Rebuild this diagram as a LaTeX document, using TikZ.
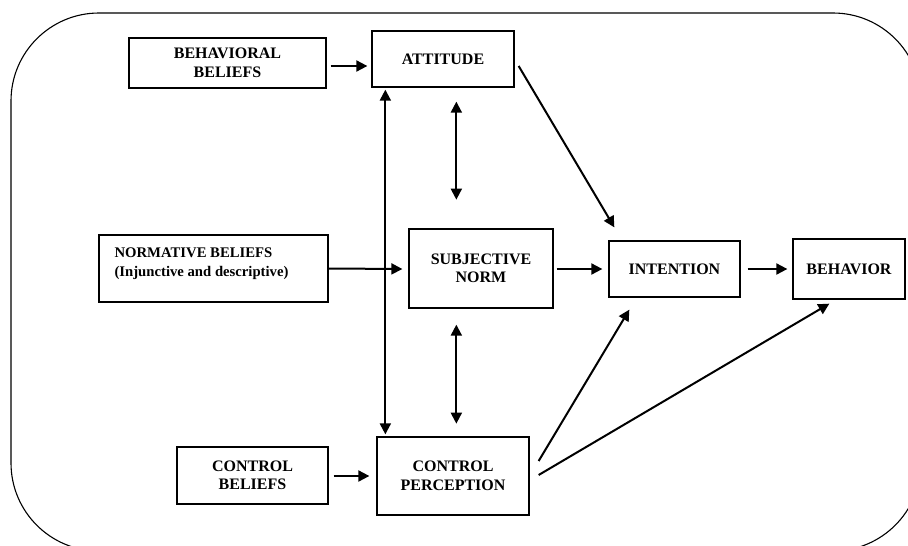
\documentclass[tikz,border=0pt]{standalone}
\usepackage{fontspec}
\setmainfont{Liberation Serif}
\usetikzlibrary{arrows.meta,calc}
\begin{document}
\begin{tikzpicture}[x=1pt,y=-1pt,
  box/.style={draw,line width=1.3pt,inner sep=0pt,align=center,
    font=\fontsize{16}{18.5}\selectfont\bfseries},
  arr/.style={line width=2pt,-{Triangle[length=11pt,width=11pt]}},
  darr/.style={line width=2pt,{Triangle[length=11pt,width=11pt]}-{Triangle[length=11pt,width=11pt]}}]
\useasboundingbox (0,0) rectangle (908,546);
\clip (0,0) rectangle (908,546);
\draw[line width=1.1pt,rounded corners=88pt] (11,13) rectangle (921,551);
% nodes
\node[box,minimum width=197pt,minimum height=50pt] (bb) at (227.5,63) {BEHAVIORAL\\BELIEFS};
\node[box,minimum width=142pt,minimum height=56pt] (att) at (443,59) {ATTITUDE};
\node[box,minimum width=229pt,minimum height=67pt] (nb) at (213.5,268.5) {};
\node[anchor=west,align=left,inner sep=0pt,font=\fontsize{14.7}{19}\selectfont\bfseries] (nbt) at ($(nb.west)+(16,-5)$) {NORMATIVE BELIEFS\\(Injunctive and descriptive)};
\node[box,minimum width=144pt,minimum height=79pt] (sn) at (481,268.5) {SUBJECTIVE\\NORM};
\node[box,minimum width=131pt,minimum height=56pt] (int) at (674.5,269) {INTENTION};
\node[box,minimum width=112pt,minimum height=60pt] (beh) at (849,269) {BEHAVIOR};
\node[box,minimum width=151pt,minimum height=57pt] (cb) at (252.5,475.5) {CONTROL\\BELIEFS};
\node[box,minimum width=152pt,minimum height=78pt] (cp) at (453,476) {CONTROL\\PERCEPTION};
% connector end points
\coordinate (bbA) at ($(bb.east)+(4,3)$);
\coordinate (bbB) at ($(att.west)+(-4,7)$);
\coordinate (vA) at ($(att.south west)+(14,2)$);
\coordinate (vB) at ($(cp.north west)+(9,-2)$);
\coordinate (d1A) at ($(att.south west)+(85,14)$);
\coordinate (d1B) at ($(att.south west)+(85,112)$);
\coordinate (d2A) at ($(sn.south west)+(48,16)$);
\coordinate (d2B) at ($(sn.south west)+(48,115)$);
\coordinate (aiA) at ($(att.east)+(4,7)$);
\coordinate (aiB) at ($(int.north west)+(6,-13)$);
\coordinate (ciA) at ($(cp.east)+(9,-15)$);
\coordinate (ciB) at ($(int.south west)+(21,12)$);
\coordinate (cbA) at ($(cp.east)+(9,-1)$);
\coordinate (cbB) at ($(beh.south west)+(37,4)$);
% connectors
\draw[arr] (bbA) -- (bbB);
\draw[arr] (nb.east) -- ($(sn.west)+(-6,0.5)$);
\draw[arr] ($(sn.east)+(3,0.5)$) -- ($(int.west)+(-6,0)$);
\draw[arr] ($(int.east)+(7,0)$) -- ($(beh.west)+(-5,0)$);
\draw[arr] ($(cb.east)+(5,0.5)$) -- ($(cp.west)+(-7,0)$);
\draw[darr] (vA) -- (vB);
\draw[darr] (d1A) -- (d1B);
\draw[darr] (d2A) -- (d2B);
\draw[arr] (aiA) -- (aiB);
\draw[arr] (ciA) -- (ciB);
\draw[arr] (cbA) -- (cbB);
\end{tikzpicture}
\end{document}
